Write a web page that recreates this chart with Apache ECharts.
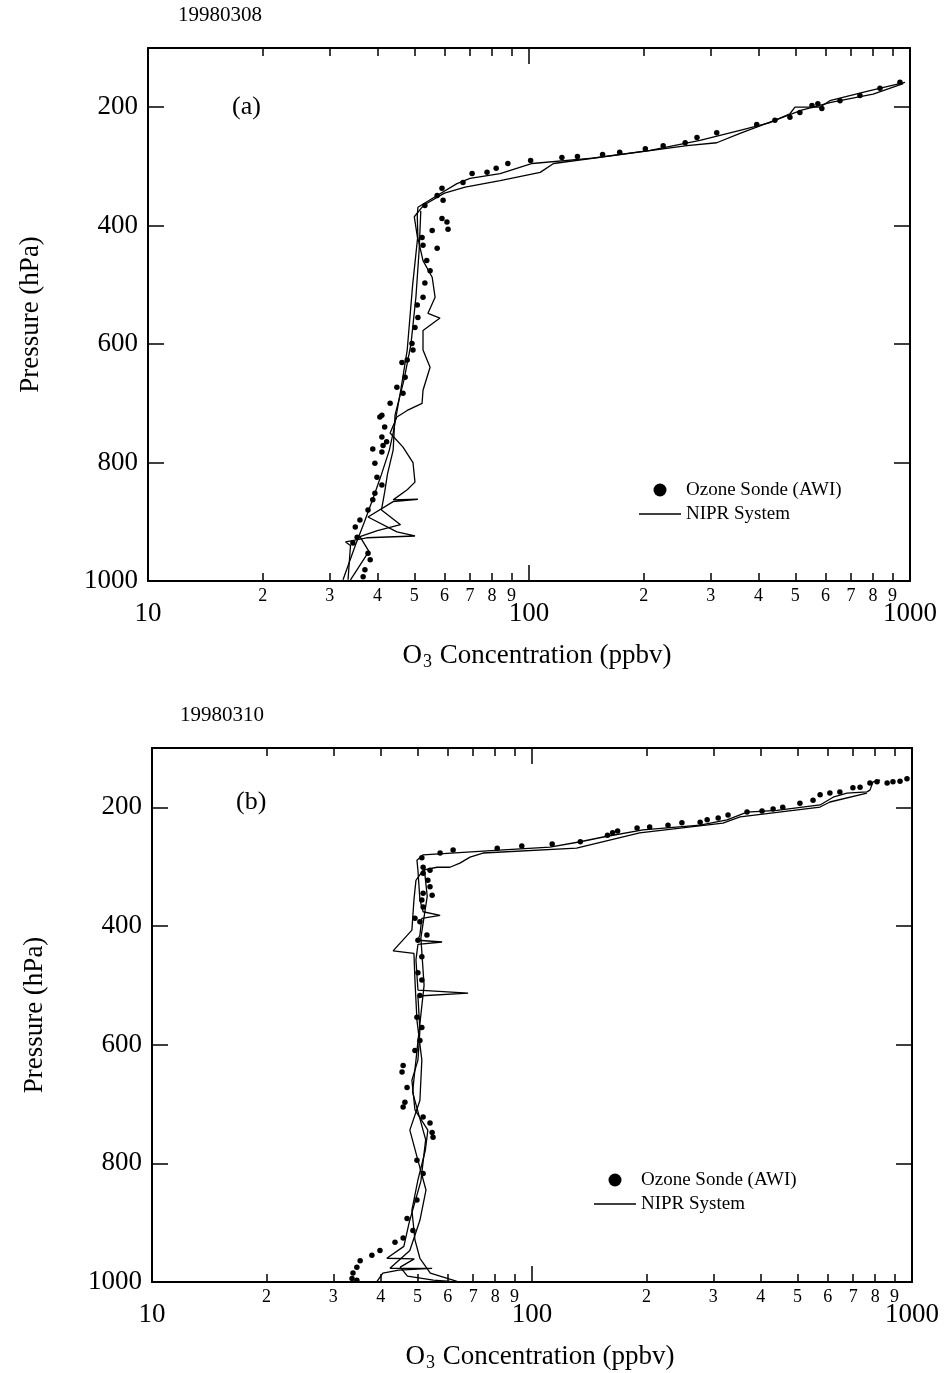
<!DOCTYPE html>
<html>
<head>
<meta charset="utf-8">
<script src="https://cdn.jsdelivr.net/npm/echarts@6/dist/echarts.min.js"></script>
<style>html,body{margin:0;padding:0;background:#fff;}#c{width:946px;height:1373px;}</style>
</head>
<body>
<div id="c"></div>
<script>
// ---------- tick values ----------
const X_MAJOR = [10, 100, 1000];
const X_MINOR = [20, 30, 40, 50, 60, 70, 80, 90, 200, 300, 400, 500, 600, 700, 800, 900];
const Y_TICKS = [200, 400, 600, 800, 1000];
const DATES = ['19980308', '19980310'];
const PANELS = ['(a)', '(b)'];

// ---------- panel (a) 1998-03-08 : [O3 ppbv, pressure hPa] ----------
const sondeA = [[941,158],[834,168],[739,180],[655,189],[587,202],[573,194],[553,197],[514,209],[484,217],[442,222],[396,229],
[311,243],[276,251],[257,260],[225,265],[202,270],[173,276],[156,280],[134,283],[122,285],[101,290],[88,295],
[82,303],[77.6,310],[70.9,312],[67.1,327],[59.1,337],[57.4,349],[59.5,357],[53.3,366],[59.1,388],[60.9,394],[61.3,406],[55.7,408],[52.4,420],[52.7,433],[57.4,438],[53.9,459],[55,476],[53.3,497],[52.7,521],[50.9,534],[51.1,555],[50.2,572],[49.3,599],[49.6,610],[47.9,627],[46.4,631],[47.3,656],[45,673],[46.7,683],[43.2,700],[40.6,723],[41.1,720],[41.8,740],[41.1,757],[42.3,765],[41.4,771],[38.9,777],[41.1,782],[39.4,801],[39.9,825],[41.1,838],[39.4,852],[38.9,863],[37.8,880],[36,897],[35,909],[35.4,926],[34.5,936],[37.8,953],[38.3,964],[37.1,981],[36.7,993]];
const niprA1 = [[970,158],[785,172],[616,189],[580,200],[499,200],[484,211],[429,226],[358,239],[281,256],[208,273],[147,286],[102,295],[84,312],[70,320],[64.7,329],[57.4,349],[51.1,369],[50.9,383],[51.1,421],[52.7,459],[55.7,487],[56.7,521],[54.3,548],[58.4,556],[52.7,577],[52.7,610],[55,639],[52.7,678],[52.4,700],[47.9,712],[45,723],[43.2,750],[46.7,774],[49.6,800],[50.2,833],[47.9,846],[44,863],[51.1,862],[44,866],[37.8,892],[45,917],[50.2,924],[37.5,927],[33,934],[34,940],[33.5,998]];
const niprA2 = [[960,160],[800,178],[620,192],[520,205],[450,220],[358,244],[311,260],[260,265],[116,295],[107,310],[84,324],[68,335],[60,345],[53,365],[50,385],[51,421],[49.5,500],[47.9,610],[46,680],[44,750],[43,779],[41,820],[39,860],[37,900],[35,940],[32.5,998]];
const niprA3 = [[52,375],[51.5,440],[50.5,520],[49,600],[47,660],[44.5,720],[44,779],[42.5,820],[41.8,850],[41,880],[46,905],[40,915],[36,925],[38,950],[34,998]];

// ---------- panel (b) 1998-03-10 ----------
const sondeB = [[970,152],[930,156],[891,157],[860,159],[809,157],[775,159],[730,166],[699,167],[646,174],[608,176],[573,179],[549,188],[507,193],[457,200],[431,203],[403,206],[368,208],[328,213],[309,218],[289,221],[277,225],[248,226],[228,230],[204,233],[189,235],[168,240],[163,243],[158,247],[134,258],[113,262],[94,265],[81,269],[62,272],[57.3,277],[51.3,285],[51.7,301],[53.9,306],[51.7,311],[53.2,323],[53.9,334],[51.7,345],[54.6,348],[51.3,356],[51.7,368],[49.2,387],[50.7,393],[52.9,415],[50.1,424],[51.3,452],[50.1,479],[51.3,491],[50.7,517],[49.8,554],[51.3,571],[50.7,593],[49.2,610],[45.8,635],[45.5,646],[46.9,672],[46.3,697],[45.8,705],[51.7,722],[53.9,732],[54.6,748],[54.9,756],[49.8,795],[51.7,817],[49.8,862],[46.9,893],[48.6,913],[45.8,926],[43.6,933],[39.8,947],[37.9,955],[35.3,964],[34.6,975],[33.8,985],[33.6,994],[34.6,997]];
const niprB1 = [[824,154],[790,157],[775,171],[761,174],[674,176],[620,183],[573,196],[441,205],[368,208],[326,221],[277,230],[196,238],[154,250],[134,258],[111.5,267],[82,272],[51.7,280],[49.8,289],[50.1,306],[50.7,356],[51.7,376],[57.3,382],[51.3,387],[50.7,415],[50.1,424],[58,427],[50.1,431],[49.5,457],[50.1,508],[67.9,513],[50.1,518],[50.7,576],[50.1,626],[48.3,660],[49.2,710],[53.2,744],[52.4,778],[50.1,828],[48.3,879],[49.2,929],[50.7,960],[54,985],[63.5,999]];
const niprB2 = [[761,176],[608,191],[573,199.5],[353,216],[318,226.5],[192,243],[131,268.6],[74.3,277],[68.7,284],[64.6,294],[60.8,301],[56.2,301],[51.7,306],[49.5,323],[48.9,356],[48.3,407],[43.1,442],[48.9,446],[49.2,491],[49.8,559],[51.3,626],[50.7,694],[47.7,744],[50.1,795],[52.6,845],[50.7,896],[47.7,947],[42.3,977],[54.6,977],[44.6,980],[40.5,985],[39.1,999]];
const niprB3 = [[52,300],[53,350],[51,420],[52,500],[50,600],[48.5,680],[52.5,760],[51,830],[47.5,900],[46,940],[41.5,960],[49,961],[45,975],[47,990],[55,997],[61,999]];

const SONDE = [sondeA, sondeB];
const NIPR = [[niprA1, niprA2, niprA3], [niprB1, niprB2, niprB3]];

// ---------- layout / style ----------
const FONT = "'Liberation Serif','Times New Roman','DejaVu Serif',serif";
const GRIDS = [{left:148, top:48, width:762, height:533}, {left:152, top:748, width:760, height:534}];
const LEGEND_POS = [{left:639, top:480}, {left:594, top:1170}];
const DATE_POS = [{left:178, top:5}, {left:180, top:705}];
const PANEL_POS = [{left:232, top:94}, {left:236, top:789}];
const SONDE_NAME = 'Ozone Sonde (AWI)';
const NIPR_NAME = 'NIPR System';

const majorFmt = v => String(Math.round(v));
const minorFmt = v => String(Math.round(v / Math.pow(10, Math.floor(Math.log10(v) + 1e-9))));

function xAx(g, pos, vals, len, labelOn, isMinor) {
  return {
    gridIndex: g, type: 'log', logBase: 10, min: 10, max: 1000, position: pos,
    axisLine: {show: !isMinor, onZero: false, lineStyle: {color: '#000', width: 2}},
    axisTick: {show: true, inside: true, length: len, customValues: vals, lineStyle: {color: '#000', width: 1.5}},
    axisLabel: labelOn ? {show: true, customValues: vals, formatter: isMinor ? minorFmt : majorFmt,
      fontSize: isMinor ? 18 : 27, fontFamily: FONT, color: '#000', margin: isMinor ? 6 : 19,
      showMinLabel: true, showMaxLabel: true, hideOverlap: false} : {show: false},
    minorTick: {show: false}, splitLine: {show: false}, minorSplitLine: {show: false}
  };
}

const xAxis = [], yAxis = [], series = [], title = [], legend = [];
for (let i = 0; i < 2; i++) {
  const bottomMajor = xAx(i, 'bottom', X_MAJOR, 16, true, false);
  bottomMajor.name = '{n|O}{s|3}{n| Concentration (ppbv)}';
  bottomMajor.nameLocation = 'middle';
  bottomMajor.nameGap = 60;
  bottomMajor.nameTextStyle = {padding: [0, 0, 0, 16], rich: {
    n: {fontSize: 27, fontFamily: FONT, color: '#000'},
    s: {fontSize: 18, fontFamily: FONT, color: '#000', padding: [12, 1, 0, 1]}
  }};
  xAxis.push(bottomMajor,
             xAx(i, 'bottom', X_MINOR, 8, true, true),
             xAx(i, 'top', [100], 16, false, false),
             xAx(i, 'top', X_MINOR, 8, false, true));
  yAxis.push({
    gridIndex: i, type: 'value', inverse: true, min: 100, max: 1000, position: 'left',
    axisLine: {show: true, onZero: false, lineStyle: {color: '#000', width: 2}},
    axisTick: {show: true, inside: true, length: 16, customValues: Y_TICKS, lineStyle: {color: '#000', width: 1.5}},
    axisLabel: {show: true, customValues: Y_TICKS, formatter: v => String(v), fontSize: 27, fontFamily: FONT, color: '#000', margin: 10},
    splitLine: {show: false},
    name: 'Pressure (hPa)', nameLocation: 'middle', nameRotate: 90, nameGap: 104,
    nameTextStyle: {fontSize: 27, fontFamily: FONT, color: '#000'}
  }, {
    gridIndex: i, type: 'value', inverse: true, min: 100, max: 1000, position: 'right',
    axisLine: {show: true, onZero: false, lineStyle: {color: '#000', width: 2}},
    axisTick: {show: true, inside: true, length: 16, customValues: Y_TICKS, lineStyle: {color: '#000', width: 1.5}},
    axisLabel: {show: false}, splitLine: {show: false}
  });
  series.push({
    name: SONDE_NAME, type: 'scatter', xAxisIndex: i * 4, yAxisIndex: i * 2,
    data: SONDE[i], symbol: 'circle', symbolSize: 5.5, itemStyle: {color: '#000', opacity: 1}
  });
  NIPR[i].forEach(d => series.push({
    name: NIPR_NAME, type: 'line', xAxisIndex: i * 4, yAxisIndex: i * 2,
    data: d, symbol: 'none', showSymbol: false, smooth: false,
    lineStyle: {color: '#000', width: 1.3}, itemStyle: {color: '#000'}
  }));
  title.push({text: DATES[i], left: DATE_POS[i].left, top: DATE_POS[i].top, padding: 0,
              textStyle: {fontSize: 21, fontWeight: 'normal', fontFamily: FONT, color: '#000'}});
  title.push({text: PANELS[i], left: PANEL_POS[i].left, top: PANEL_POS[i].top, padding: 0,
              textStyle: {fontSize: 26, fontWeight: 'normal', fontFamily: FONT, color: '#000'}});
  legend.push({
    left: LEGEND_POS[i].left, top: LEGEND_POS[i].top, orient: 'vertical', padding: 0,
    itemWidth: 42, itemHeight: 13, itemGap: 4, selectedMode: false,
    data: [{name: SONDE_NAME, icon: 'circle'},
           {name: NIPR_NAME, icon: 'path://M0,0L42,0L42,1.5L0,1.5Z'}],
    itemStyle: {color: '#000'},
    textStyle: {fontSize: 19, fontFamily: FONT, color: '#000', lineHeight: 20}
  });
}

const chart = echarts.init(document.getElementById('c'), null, {renderer: 'canvas'});
chart.setOption({
  animation: false, backgroundColor: '#fff',
  grid: GRIDS, xAxis, yAxis, series, title, legend
});
</script>
</body>
</html>
